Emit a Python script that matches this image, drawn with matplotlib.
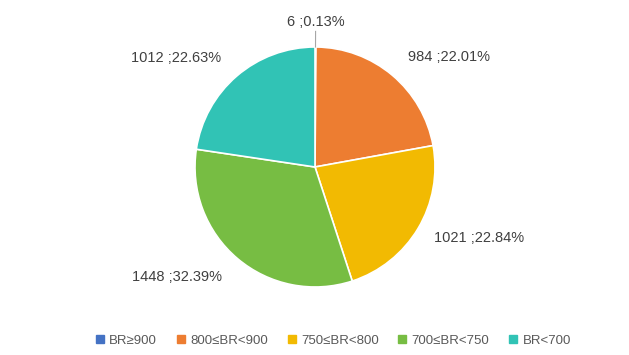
import numpy as np
import matplotlib.pyplot as plt
from matplotlib.lines import Line2D

plt.rcParams['font.family'] = ['Liberation Sans', 'DejaVu Sans']

# Data
categories = ['BR≥900', '800≤BR<900', '750≤BR<800', '700≤BR<750', 'BR<700']
counts = [6, 984, 1021, 1448, 1012]
colors = ['#4472C4', '#ED7D31', '#F2BA02', '#77BD43', '#31C3B5']

total = sum(counts)
pcts = [c / total * 100 for c in counts]

fig = plt.figure(figsize=(6.29, 3.55), dpi=100)
ax = fig.add_axes([0.2528, 0.0901, 0.496, 0.879])

wedges, _ = ax.pie(counts, colors=colors, startangle=90, counterclock=False,
                   radius=1.0, wedgeprops=dict(edgecolor='white', linewidth=1.2))
ax.set_xlim(-1.3, 1.3)
ax.set_ylim(-1.3, 1.3)
ax.set_aspect('equal')
ax.axis('off')

# Data labels
for i, w in enumerate(wedges):
    ang = np.deg2rad((w.theta1 + w.theta2) / 2)
    x, y = np.cos(ang), np.sin(ang)
    text = f'{counts[i]} ;{pcts[i]:.2f}%'
    if i == 0:
        ax.plot([x, x * 1.13], [y, y * 1.13], color='#A6A6A6', lw=0.8)
        ax.text(x * 1.21, y * 1.21, text, ha='center', va='center',
                fontsize=10.5, color='#404040')
    else:
        ha = 'left' if x > 0 else 'right'
        d = 1.15 if i == 2 else 1.2
        ax.text(x * d, y * d, text, ha=ha, va='center',
                fontsize=10.5, color='#404040')

# Legend
handles = [Line2D([0], [0], marker='s', linestyle='', markersize=6,
                  markerfacecolor=c, markeredgecolor=c) for c in colors]
fig.legend(handles, categories, loc='center', bbox_to_anchor=(0.528, 0.04),
           ncol=5, frameon=False, fontsize=9.5, labelcolor='#595959',
           handletextpad=0.2, columnspacing=1.3, handlelength=1.0)

plt.savefig('out.png', dpi=100)
